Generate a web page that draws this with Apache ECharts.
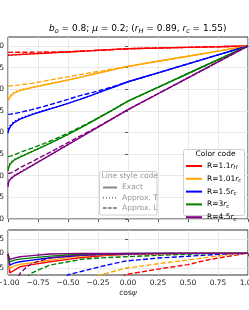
<!DOCTYPE html>
<html><head><meta charset="utf-8">
<script src="https://cdn.jsdelivr.net/npm/echarts@6/dist/echarts.min.js"></script>
<style>html,body{margin:0;padding:0;background:#fff}#c{width:249px;height:310px}</style>
</head><body><div id="c"></div>
<script>
// ---------- data ----------
const cosTop = [-1,-0.995,-0.98,-0.95,-0.9,-0.8,-0.7,-0.6,-0.5,-0.4,-0.3,-0.2,-0.1,0,0.25,0.5,0.75,1];

const redExact   = [0.9785,0.9787,0.979,0.9795,0.9803,0.9818,0.9833,0.9848,0.9862,0.9877,0.9892,0.9908,0.9923,0.9938,0.9953,0.9969,0.9984,1.0];
const redApproxT = [0.979,0.979,0.9792,0.9796,0.9803,0.9818,0.9833,0.9848,0.9862,0.9877,0.9892,0.9908,0.9923,0.9938,0.9953,0.9969,0.9984,1.0];
const redApproxL = [0.9852,0.9852,0.9853,0.9854,0.9855,0.9857,0.986,0.9863,0.9868,0.9878,0.9892,0.9908,0.9923,0.9938,0.9953,0.9969,0.9984,1.0];

const orangeExact   = [0.8734,0.8773,0.8831,0.8912,0.897,0.9039,0.9097,0.9155,0.9213,0.9275,0.934,0.9405,0.9468,0.953,0.9648,0.9764,0.9882,1.0];
const orangeApproxT = [0.8789,0.882,0.8866,0.8935,0.8986,0.905,0.9104,0.916,0.9213,0.9275,0.934,0.9405,0.9468,0.953,0.9648,0.9764,0.9882,1.0];
const orangeApproxL = [0.9074,0.9075,0.9079,0.9088,0.9102,0.9137,0.9188,0.9238,0.9287,0.9338,0.9387,0.9431,0.9477,0.953,0.9648,0.9764,0.9882,1.0];

const blueExact   = [0.7986,0.8056,0.8137,0.8229,0.831,0.8414,0.8502,0.8588,0.8674,0.8766,0.8866,0.897,0.9069,0.9174,0.938,0.9587,0.9793,1.0];
const blueApproxT = [0.8079,0.8113,0.8171,0.8252,0.8326,0.8426,0.8509,0.8588,0.8674,0.8766,0.8866,0.897,0.9069,0.9174,0.938,0.9587,0.9793,1.0];
const blueApproxL = [0.8419,0.842,0.8425,0.8437,0.8465,0.853,0.8604,0.8683,0.8766,0.8854,0.8921,0.8998,0.9081,0.9174,0.938,0.9587,0.9793,1.0];

const greenExact   = [0.7106,0.7188,0.728,0.7361,0.7431,0.7558,0.7685,0.7817,0.7956,0.8102,0.8252,0.8407,0.8565,0.8727,0.9045,0.9364,0.9682,1.0];
const greenApproxT = [0.7183,0.7234,0.7303,0.7377,0.7442,0.7565,0.769,0.7817,0.7956,0.8102,0.8252,0.8407,0.8565,0.8727,0.9045,0.9364,0.9682,1.0];
const greenApproxL = [0.7442,0.7444,0.7455,0.748,0.754,0.7639,0.7743,0.7859,0.7986,0.812,0.8264,0.8412,0.8565,0.8727,0.9045,0.9364,0.9682,1.0];

const purpleExact   = [0.6743,0.6852,0.6921,0.6991,0.7072,0.7234,0.7396,0.7558,0.772,0.7882,0.8044,0.8206,0.8368,0.8528,0.8896,0.9264,0.9632,1.0];
const purpleApproxT = [0.6806,0.6887,0.6944,0.7007,0.7083,0.7241,0.7396,0.7558,0.772,0.7882,0.8044,0.8206,0.8368,0.8528,0.8896,0.9264,0.9632,1.0];
const purpleApproxL = [0.7049,0.7052,0.7063,0.7098,0.7188,0.7326,0.747,0.7616,0.7766,0.7917,0.806,0.8211,0.8368,0.8528,0.8896,0.9264,0.9632,1.0];

// lower panel: differences
const cosBotT = [-1,-0.985,-0.95,-0.9,-0.8,-0.65,-0.5,-0.4,-0.2,0,0.2,0.4,0.6,1];
const redErrT    = [-0.005,-0.0674,-0.059,-0.0465,-0.039,-0.0292,-0.0208,-0.0153,-0.0076,-0.0035,-0.0014,-0.0005,0,0];
const orangeErrT = [-0.004,-0.052,-0.044,-0.038,-0.0323,-0.0233,-0.0149,-0.0094,-0.0052,-0.0024,-0.001,0,0,0];
const blueErrT   = [-0.003,-0.0406,-0.0337,-0.0292,-0.0236,-0.0153,-0.0108,-0.0069,-0.0031,-0.0014,0,0,0,0];
const greenErrT  = [-0.003,-0.0292,-0.0233,-0.0198,-0.0156,-0.0094,-0.0059,-0.0035,-0.0017,-0.0007,0,0,0,0];
const purpleErrT = [-0.002,-0.0208,-0.0163,-0.0118,-0.008,-0.0024,-0.001,0,0,0,0,0,0,0];

const cosBotL = [-1,-0.95,-0.9,-0.85,-0.8,-0.75,-0.65,-0.5,-0.375,-0.25,-0.025,0.25,0.5,0.66,0.8,0.9,0.97,1];
const redErrL    = [-0.9,-0.8,-0.7,-0.62,-0.55,-0.5,-0.42,-0.32,-0.24,-0.17,-0.074,-0.0545,-0.039,-0.023,-0.0128,-0.006,-0.001,0];
const orangeErrL = [-0.6,-0.5,-0.45,-0.4,-0.35,-0.3,-0.24,-0.16,-0.11,-0.077,-0.052,-0.036,-0.023,-0.014,-0.006,-0.002,0,0];
const blueErrL   = [-0.5,-0.4,-0.33,-0.28,-0.24,-0.2,-0.15,-0.074,-0.061,-0.048,-0.0267,-0.0163,-0.01,-0.0059,-0.0024,-0.0007,0,0];
const greenErrL  = [-0.3,-0.2,-0.13,-0.085,-0.068,-0.058,-0.0406,-0.0292,-0.0198,-0.016,-0.0118,-0.0069,-0.0031,-0.001,0,0,0,0];
const purpleErrL = [-0.2,-0.11,-0.07,-0.049,-0.036,-0.028,-0.0163,-0.009,-0.0059,-0.004,-0.0024,-0.001,0,0,0,0,0,0];

const xTicks = [-1,-0.75,-0.5,-0.25,0,0.25,0.5,0.75,1];
const yTicksTop = [0.6,0.65,0.7,0.75,0.8,0.85,0.9,0.95,1.0];
const yTicksBot = [-0.05,0,0.05];

const colorNames = ['R=1.1rH','R=1.01rc','R=1.5rc','R=3rc','R=4.5rc'];
const colorRich  = ['R=1.1{i|r}{s|H}','R=1.01{i|r}{s|c}','R=1.5{i|r}{s|c}','R=3{i|r}{s|c}','R=4.5{i|r}{s|c}'];
const styleNames = ['Exact','Approx. T','Approx. L'];

// ---------- styling ----------
const FONT = 'DejaVu Sans';
const colors = ['#ff0000','#ffa500','#0000ff','#008000','#800080'];
const dashes = {exact:'solid', t:[1.4,2.2], l:[5,2.2]};
const LW = 1.4;

const topSets = [
  [redExact, redApproxT, redApproxL],
  [orangeExact, orangeApproxT, orangeApproxL],
  [blueExact, blueApproxT, blueApproxL],
  [greenExact, greenApproxT, greenApproxL],
  [purpleExact, purpleApproxT, purpleApproxL]
];
const botSets = [
  [redErrT, redErrL],[orangeErrT, orangeErrL],[blueErrT, blueErrL],[greenErrT, greenErrL],[purpleErrT, purpleErrL]
];

function pairs(xs, ys){ return xs.map((x,i)=>[x, ys[i]]); }
function lineSeries(name, data, color, type, idx, w){
  return {type:'line', name, data, xAxisIndex:idx, yAxisIndex:idx, symbol:'none', silent:true,
    lineStyle:{color, width:w||LW, type}, itemStyle:{color}, z:2, animation:false, clip:true};
}

const series = [];
topSets.forEach((set, ci)=>{
  series.push(lineSeries('top-e'+ci, pairs(cosTop,set[0]), colors[ci], dashes.exact, 0));
  series.push(lineSeries('top-t'+ci, pairs(cosTop,set[1]), colors[ci], dashes.t, 0));
  series.push(lineSeries('top-l'+ci, pairs(cosTop,set[2]), colors[ci], dashes.l, 0));
});
botSets.forEach((set, ci)=>{
  series.push(lineSeries('bot-t'+ci, pairs(cosBotT,set[0]), colors[ci], dashes.exact, 1));
  series.push(lineSeries('bot-l'+ci, pairs(cosBotL,set[1]), colors[ci], dashes.l, 1));
});
// legend-only series
const styleTypes = [dashes.exact, [1,2], [3.5,1.6]];
styleNames.forEach((n,i)=>series.push(lineSeries(n, [], '#8a8a8a', styleTypes[i], 0, 1.1)));
colorNames.forEach((n,i)=>series.push(lineSeries(n, [], colors[i], 'solid', 0, 1.2)));

const fmt = v => (Math.abs(v)<1e-9?0:v).toFixed(2).replace('-','\u2212');
const axisCommon = {
  axisLine:{show:false},
  axisTick:{show:true, inside:false, length:3, lineStyle:{color:'#333', width:0.8}},
  splitLine:{show:true, lineStyle:{color:'#e3e3e3', width:0.8}},
  axisLabel:{fontFamily:FONT, fontSize:7.5, color:'#222', margin:4, formatter:fmt}
};
function merge(a,b){ return Object.assign({}, a, b); }

const subRich = {
  i:{fontFamily:FONT, fontStyle:'italic', fontSize:7.5, color:'#000'},
  s:{fontFamily:FONT, fontStyle:'italic', fontSize:5.5, color:'#000', verticalAlign:'bottom', lineHeight:10}
};

const option = {
  animation:false,
  backgroundColor:'#fff',
  title:[
    {text:'{i|b}{s|o}{n| = 0.8; }{i|\u03bc}{n| = 0.2; (}{i|r}{s|H}{n| = 0.89, }{i|r}{s|c}{n| = 1.55)}',
     left:49, top:22, padding:0, z:6,
     textStyle:{fontFamily:FONT, fontSize:9, fontWeight:'normal', color:'#000', rich:{
       n:{fontFamily:FONT, fontSize:9, color:'#000', lineHeight:13},
       i:{fontFamily:FONT, fontSize:9, fontStyle:'italic', color:'#000', lineHeight:13},
       s:{fontFamily:FONT, fontSize:6.5, fontStyle:'italic', color:'#000', verticalAlign:'bottom', lineHeight:13}
     }}},
    {text:'Line style code', left:101.5, top:172.5, padding:0, z:6,
     textStyle:{fontFamily:FONT, fontSize:7.5, fontWeight:'normal', color:'#999'}},
    {text:'Color code', left:195.5, top:150.5, padding:0, z:6,
     textStyle:{fontFamily:FONT, fontSize:7.5, fontWeight:'normal', color:'#000'}}
  ],
  graphic:[
    {type:'rect', z:3, shape:{x:99.5, y:171.5, width:57.5, height:43.5, r:2},
     style:{fill:'rgba(255,255,255,0.85)', stroke:'#d0d0d0', lineWidth:1}},
    {type:'rect', z:3, shape:{x:183.5, y:149.5, width:61, height:66, r:2},
     style:{fill:'rgba(255,255,255,0.85)', stroke:'#d0d0d0', lineWidth:1}}
  ],
  legend:[
    {data:styleNames, orient:'vertical', left:102, top:183.5, padding:0, itemWidth:14, itemHeight:8, itemGap:2.3,
     selectedMode:false, z:5, itemStyle:{opacity:0, borderWidth:0},
     textStyle:{fontFamily:FONT, fontSize:7.5, color:'#999', lineHeight:8}},
    {data:colorNames, orient:'vertical', left:185, top:161, padding:0, itemWidth:16, itemHeight:8, itemGap:2.8,
     selectedMode:false, z:5, itemStyle:{opacity:0, borderWidth:0},
     formatter:n=>colorRich[colorNames.indexOf(n)],
     textStyle:{fontFamily:FONT, fontSize:7.5, color:'#000', lineHeight:8, rich:subRich}}
  ],
  grid:[
    {left:8, top:37, width:240, height:182, show:true, borderColor:'#333', borderWidth:1, backgroundColor:'transparent',
     containLabel:false, outerBoundsMode:'none'},
    {left:8, top:230, width:240, height:45, show:true, borderColor:'#333', borderWidth:1, backgroundColor:'transparent',
     containLabel:false, outerBoundsMode:'none'}
  ],
  xAxis:[
    merge(axisCommon, {type:'value', gridIndex:0, min:-1, max:1, interval:0.25, axisLabel:{show:false}}),
    merge(axisCommon, {type:'value', gridIndex:1, min:-1, max:1, interval:0.25,
      name:'cos{i|\u03c8}', nameLocation:'middle', nameGap:14,
      nameTextStyle:{fontFamily:FONT, fontSize:7.5, color:'#222', rich:{i:{fontFamily:FONT, fontStyle:'italic', fontSize:7.5, color:'#222'}}}})
  ],
  yAxis:[
    merge(axisCommon, {type:'value', gridIndex:0, min:0.6, max:1.0208,
      axisTick:merge(axisCommon.axisTick, {customValues:yTicksTop}),
      axisLabel:merge(axisCommon.axisLabel, {customValues:yTicksTop})}),
    merge(axisCommon, {type:'value', gridIndex:1, min:-0.075, max:0.081,
      axisTick:merge(axisCommon.axisTick, {customValues:yTicksBot}),
      axisLabel:merge(axisCommon.axisLabel, {customValues:yTicksBot})})
  ],
  series
};
const chart = echarts.init(document.getElementById('c'), null, {renderer:'canvas'});
chart.setOption(option);
</script></body></html>
